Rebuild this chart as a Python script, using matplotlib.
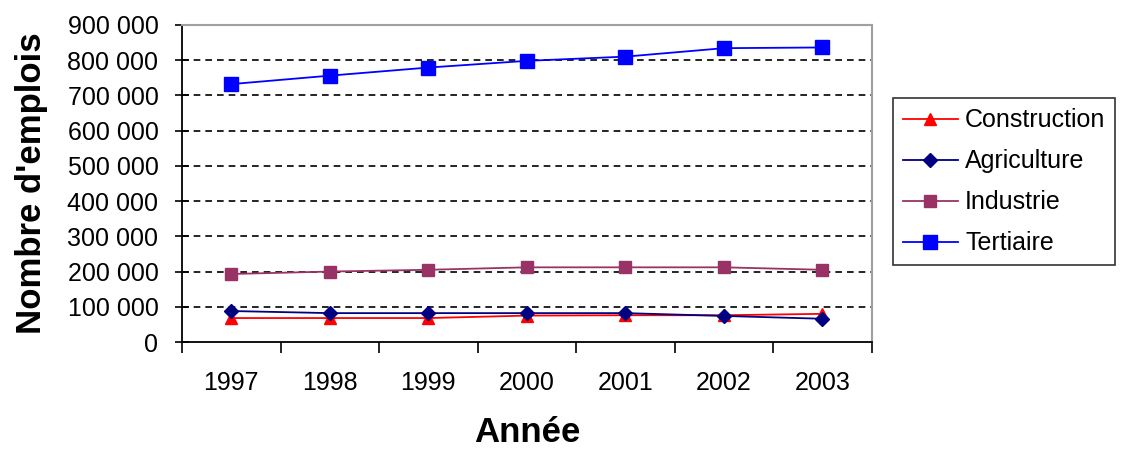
import numpy as np
import matplotlib.pyplot as plt
from matplotlib.ticker import FuncFormatter

years = ["1997", "1998", "1999", "2000", "2001", "2002", "2003"]
construction = [68000, 68000, 68000, 75000, 76000, 76000, 80000]
agriculture = [88000, 82000, 82000, 82000, 82000, 74000, 66000]
industrie = [193000, 200000, 205000, 212000, 212000, 212000, 205000]
tertiaire = [732000, 756000, 779000, 798000, 810000, 834000, 836000]

plt.rcParams["font.family"] = ["Liberation Sans", "DejaVu Sans"]

fig = plt.figure(figsize=(11.27, 4.53), dpi=100)
ax = fig.add_axes([0.1615, 0.245, 0.612, 0.7])

x = np.arange(len(years))
ax.plot(x, construction, "-^", color="#ff0000", ms=9, lw=1.3, label="Construction")
ax.plot(x, agriculture, "-D", color="#000080", ms=7, lw=1.3, label="Agriculture")
ax.plot(x, industrie, "-s", color="#993366", ms=9, lw=1.3, label="Industrie")
ax.plot(x, tertiaire, "-s", color="#0000ff", ms=10, lw=1.3, mec="#0000ff", label="Tertiaire")

ax.set_xlim(-0.5, len(years) - 0.5)
ax.set_ylim(0, 900000)
ax.set_yticks(np.arange(0, 900001, 100000))
ax.yaxis.set_major_formatter(FuncFormatter(lambda v, p: f"{int(v):,}".replace(",", " ")))
ax.set_xticks(np.arange(-0.5, len(years)))
ax.set_xticklabels([])
ax.set_xticks(x, minor=True)
ax.set_xticklabels(years, minor=True)
ax.tick_params(axis="x", which="major", direction="out", length=8, width=1.2)
ax.tick_params(axis="x", which="minor", length=0, pad=21, labelsize=18)
ax.tick_params(axis="y", direction="inout", length=10, width=1.2, labelsize=18, pad=12)

for yv in np.arange(100000, 900000, 100000):
    ax.axhline(yv, color="black", ls=(0, (4, 3)), lw=1.2, zorder=0)

ax.spines["left"].set_linewidth(1.3)
ax.spines["bottom"].set_linewidth(1.3)
ax.spines["top"].set_color("#a0a0a0")
ax.spines["right"].set_color("#a0a0a0")
ax.spines["top"].set_linewidth(1.5)
ax.spines["right"].set_linewidth(1.5)

ax.set_ylabel("Nombre d'emplois", fontsize=25, fontweight="bold", labelpad=14)
ax.set_xlabel("Année", fontsize=25, fontweight="bold", labelpad=15)

leg = fig.legend(loc="upper left", bbox_to_anchor=(0.792, 0.783), fontsize=18,
                 frameon=True, fancybox=False, edgecolor="black", handlelength=2.2,
                 borderpad=0.4, labelspacing=0.68, handletextpad=0.3, borderaxespad=0)
leg.get_frame().set_linewidth(1.2)

fig.savefig("out.png", dpi=100)
